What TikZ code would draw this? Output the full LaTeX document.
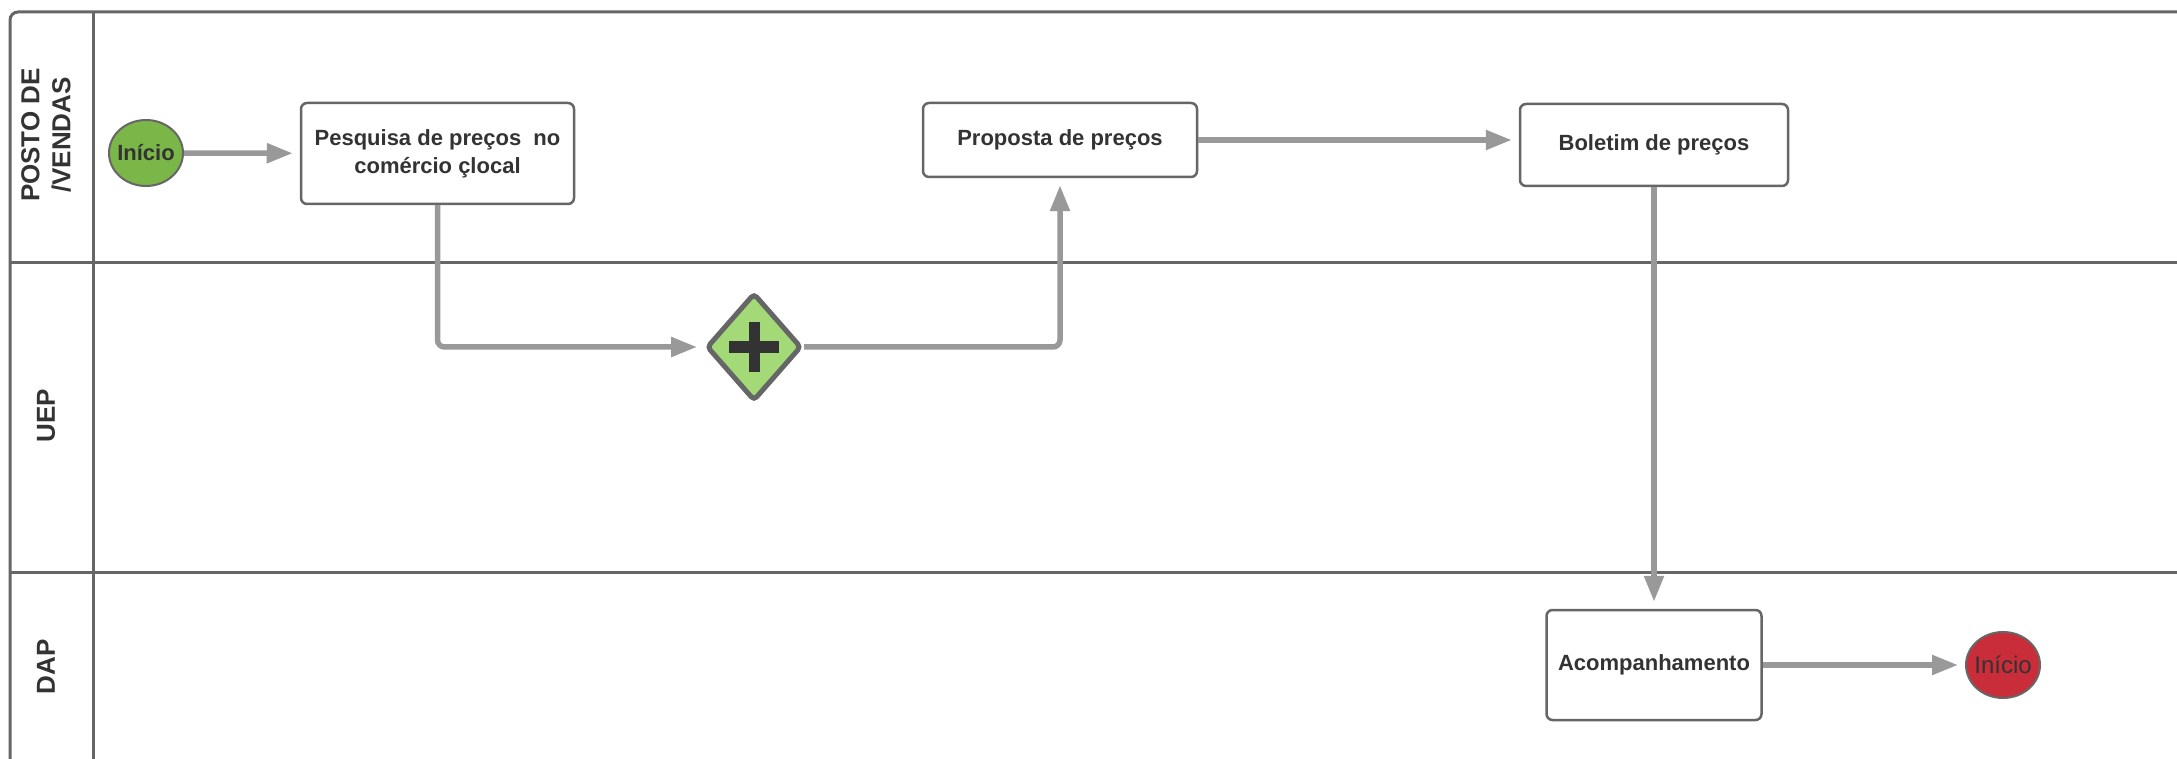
\documentclass[tikz,border=0pt]{standalone}
\usepackage{fontspec}
\setmainfont{Liberation Sans}
\usepackage{tikz}
\usetikzlibrary{shapes.geometric}
\usetikzlibrary{arrows.meta}
\definecolor{lanegray}{HTML}{666666}
\definecolor{flowgray}{HTML}{999999}
\definecolor{startgreen}{HTML}{7AB648}
\definecolor{endred}{HTML}{C92D39}
\definecolor{gatewaygreen}{HTML}{A3D977}
\definecolor{textdark}{HTML}{333333}
\def\largura{2177}
\def\altura{759}

\begin{document}
\begin{tikzpicture}[x=1pt, y=-1pt,
  tarefa/.style={draw=lanegray, line width=2.5pt, rounded corners=6pt, fill=white, inner sep=0pt, align=center, text=textdark, font=\fontsize{22}{28}\selectfont\bfseries},
  evento/.style={ellipse, draw=lanegray, line width=2pt, minimum width=74pt, minimum height=66pt, inner xsep=-14pt, inner ysep=0pt, text=textdark},
  fluxo/.style={draw=flowgray, line width=5.5pt, rounded corners=7pt, -{Triangle[length=26pt,width=19pt]}, shorten >=7pt},
  raia/.style={rotate=90, align=center, text=textdark, font=\fontsize{26}{31}\selectfont\bfseries}]
\useasboundingbox (0,0) rectangle (\largura,\altura);
%\draw[step=100, line width=0.1pt, black!20!white] (0,0) grid (\largura,\altura);
% piscina e raias
\draw[lanegray, line width=3pt, rounded corners=8pt] (\largura,12) -- (10,12) -- (10,\altura);
\draw[lanegray, line width=3pt] (93,12) -- (93,\altura);
\draw[lanegray, line width=3pt] (10,263) -- (\largura,263);
\draw[lanegray, line width=3pt] (10,572) -- (\largura,572);
\node[raia] (raiaposto) at (46,135) {POSTO DE\\/VENDAS};
\node[raia] (raiauep) at (46,416) {UEP};
\node[raia] (raiadap) at (46,667) {DAP};
% eventos, tarefas e gateway
\node[evento, fill=startgreen, font=\fontsize{22}{25}\selectfont\bfseries] (inicio) at (146,153) {Início};
\node[tarefa, minimum width=273pt, minimum height=101pt] (pesquisa) at (437.5,153.5) {Pesquisa de preços\ \ no\\comércio çlocal};
\node[tarefa, minimum width=274pt, minimum height=74pt] (proposta) at (1060,140) {Proposta de preços};
\node[tarefa, minimum width=268pt, minimum height=82pt] (boletim) at (1654,145) {Boletim de preços};
\node[tarefa, minimum width=215pt, minimum height=110pt] (acomp) at (1654,665) {Acompanhamento};
\node[evento, fill=endred, font=\fontsize{24}{28}\selectfont] (fim) at (2003,665) {Início};
\node[diamond, draw=lanegray, line width=5pt, rounded corners=4pt, fill=gatewaygreen, minimum width=95pt, minimum height=108pt, inner sep=0pt] (porta) at (754,347) {};
\draw[textdark, line width=11pt] ([xshift=-25pt]porta.center) -- ([xshift=25pt]porta.center);
\draw[textdark, line width=11pt] ([yshift=-25pt]porta.center) -- ([yshift=25pt]porta.center);
% fluxos
\draw[fluxo] (inicio) -- (pesquisa);
\draw[fluxo] (pesquisa.south) |- (porta.west);
\draw[fluxo] (porta.east) -| (proposta.south);
\draw[fluxo] (proposta.east) -- (proposta.east -| boletim.west);
\draw[fluxo] (boletim.south) -- (acomp.north);
\draw[fluxo] (acomp) -- (fim);
\end{tikzpicture}
\end{document}
